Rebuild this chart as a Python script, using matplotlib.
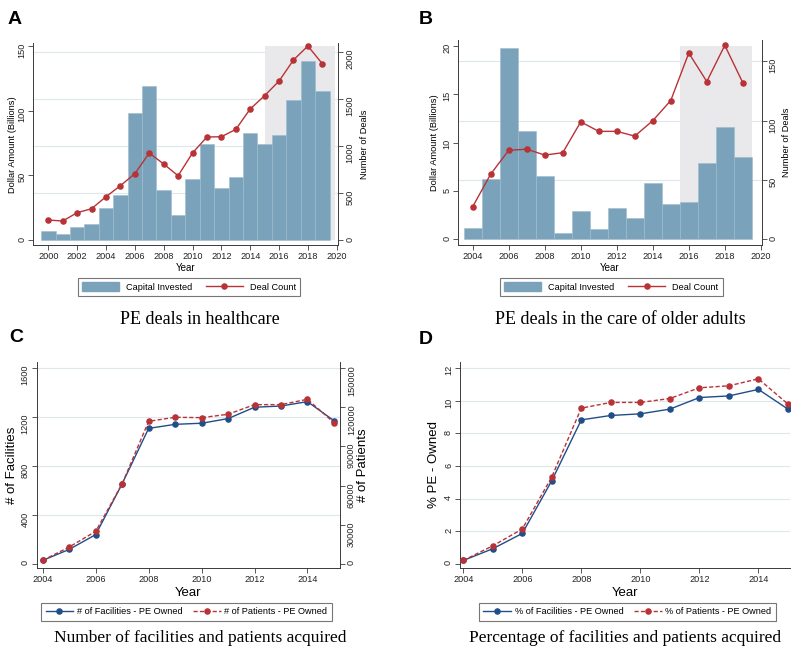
import matplotlib
matplotlib.use("Agg")
import matplotlib.pyplot as plt
from matplotlib.patches import Patch
from matplotlib.lines import Line2D

plt.rcParams['font.family'] = ['Liberation Sans', 'DejaVu Sans']

W, H = 797, 651

# panel A: all healthcare PE deals
years_a = list(range(2000, 2020))
capital_a = [7, 4.5, 10, 12, 24.5, 35, 98, 119, 38.5, 19.5, 47, 74, 40.5, 49,
             83, 74, 81, 108.5, 138, 115.5]
deals_a = [213, 202, 291, 333, 461, 578, 706, 926, 809, 684, 926, 1096, 1099,
           1177, 1394, 1536, 1691, 1915, 2064, 1876]

# panel B: care of older adults
years_b = list(range(2004, 2020))
capital_b = [1.2, 6.2, 19.8, 11.2, 6.5, 0.7, 2.95, 1.1, 3.25, 2.2, 5.85, 3.6,
             3.9, 7.85, 11.6, 8.5]
deals_b = [27.5, 55, 75, 76, 71, 73, 99, 91, 91, 87, 100, 117, 157, 133,
           163.5, 132]

# panels C and D: nursing homes
years_cd = list(range(2004, 2016))
facilities = [27, 117, 238, 655, 1108, 1141, 1150, 1188, 1281, 1291, 1327, 1171]
patients = [2560, 12800, 24800, 61400, 109300, 112400, 112100, 114700, 122100,
            122100, 126200, 108300]
pct_facilities = [0.2, 0.92, 1.86, 5.1, 8.83, 9.1, 9.2, 9.49, 10.2, 10.3,
                  10.7, 9.49]
pct_patients = [0.2, 1.1, 2.13, 5.33, 9.55, 9.9, 9.9, 10.14, 10.8, 10.92,
                11.35, 9.8]

BAR = '#7aa3bb'
BAR_EDGE = '#9dbccd'
RED = '#b83236'
NAVY = '#1f4e89'
SHADE = '#e9e9eb'
GRID = '#dde8ed'
SPINE = '#3a3a3a'
MS = 3.7

fig = plt.figure(figsize=(W / 100, H / 100), dpi=100)


def frame(left, right, top, bottom):
    return fig.add_axes([left / W, 1 - bottom / H, (right - left) / W,
                         (bottom - top) / H])


def style(ax, sides):
    for s in ['top', 'right', 'left', 'bottom']:
        ax.spines[s].set_visible(s in sides)
        ax.spines[s].set_color(SPINE)
        ax.spines[s].set_linewidth(0.7)
    ax.tick_params(length=3.5, width=0.6, color=SPINE, labelsize=6.6, pad=1.5,
                   labelcolor='#222222')
    ax.tick_params(axis='y', labelrotation=90)


def to_left(ax, ax2, v):
    lo1, hi1 = ax.get_ylim()
    lo2, hi2 = ax2.get_ylim()
    return lo1 + (v - lo2) * (hi1 - lo1) / (hi2 - lo2)


def legend(ax, handles, labels, cx, cy, **kw):
    leg = ax.legend(handles, labels, ncol=2, loc='center',
                    bbox_to_anchor=(cx / W, 1 - cy / H),
                    bbox_transform=fig.transFigure, fontsize=6.6,
                    frameon=True, fancybox=False, borderpad=0.45, **kw)
    leg.get_frame().set_edgecolor('#555555')
    leg.get_frame().set_linewidth(0.8)
    return leg


def deal_panel(box, years, capital, deals, xlim, ylim, ylim2, xticks, yticks,
               y2ticks, shade, label_xy, cap_xy, caption, leg_xy):
    ax = frame(*box)
    ax.set_xlim(*xlim)
    ax.set_ylim(*ylim)
    ax2 = ax.twinx()
    ax2.set_ylim(*ylim2)
    style(ax, ['left', 'bottom'])
    style(ax2, ['right'])
    for t in y2ticks[1:]:
        ax.axhline(to_left(ax, ax2, t), color=GRID, lw=0.8, zorder=0)
    ax.fill_between(shade[:2], 0, shade[2], color=SHADE, lw=0, zorder=1)
    ax.bar(years, capital, width=1.0, color=BAR, edgecolor=BAR_EDGE,
           linewidth=0.4, zorder=2)
    ax2.plot(years, deals, color=RED, lw=1, marker='o', ms=MS, zorder=3)
    ax.set_xticks(xticks)
    ax.set_yticks(yticks)
    ax2.set_yticks(y2ticks)
    ax.set_ylabel('Dollar Amount (Billions)', fontsize=6.7, va='center')
    ax.yaxis.set_label_coords(*label_xy[0])
    ax2.set_ylabel('Number of Deals', fontsize=6.7, va='center')
    ax2.yaxis.set_label_coords(*label_xy[1])
    ax.set_xlabel('Year', fontsize=7, va='center')
    ax.xaxis.set_label_coords(*label_xy[2])
    handles = [Patch(facecolor=BAR, edgecolor=BAR),
               Line2D([], [], color=RED, lw=1, marker='o', ms=MS)]
    legend(ax2, handles, ['Capital Invested', 'Deal Count'], *leg_xy,
           handlelength=4, handleheight=1.0, handletextpad=0.8,
           columnspacing=1.5)
    fig.text(cap_xy[0] / W, 1 - cap_xy[1] / H, caption,
             family='Liberation Serif', fontsize=13, ha='center', va='center')


def trend_panel(box, fac, pat, xlim, ylim, yticks, labels, ylabel, label_xy,
                cap_xy, caption, leg_xy, ylim2=None, y2ticks=None,
                y2label=None):
    ax = frame(*box)
    ax.set_xlim(*xlim)
    ax.set_ylim(*ylim)
    style(ax, ['left', 'bottom'])
    for t in yticks[1:]:
        ax.axhline(t, color=GRID, lw=0.8, zorder=0)
    ax.plot(years_cd, fac, color=NAVY, lw=1, marker='o', ms=MS, zorder=3)
    top = ax
    if ylim2 is not None:
        top = ax.twinx()
        top.set_ylim(*ylim2)
        style(top, ['right'])
        top.set_yticks(y2ticks)
        top.set_ylabel(y2label, fontsize=9.5, va='center')
        top.yaxis.set_label_coords(*label_xy[1])
    top.plot(years_cd, pat, color=RED, lw=1, ls=(0, (3, 1.6)), marker='o',
             ms=MS, zorder=4)
    ax.set_xticks(range(2004, 2015, 2))
    ax.set_yticks(yticks)
    ax.set_ylabel(ylabel, fontsize=9.5, va='center')
    ax.yaxis.set_label_coords(*label_xy[0])
    ax.set_xlabel('Year', fontsize=9.5, va='center')
    ax.xaxis.set_label_coords(*label_xy[2])
    handles = [Line2D([], [], color=NAVY, lw=1, marker='o', ms=MS),
               Line2D([], [], color=RED, lw=1, ls=(0, (3, 1.6)), marker='o',
                      ms=MS)]
    legend(top, handles, labels, *leg_xy, handlelength=3.0,
           handletextpad=0.4, columnspacing=1.2)
    fig.text(cap_xy[0] / W, 1 - cap_xy[1] / H, caption,
             family='Liberation Serif', fontsize=12.5, ha='center',
             va='center')


deal_panel((33.3, 338.3, 43.3, 245.2), years_a, capital_a, deals_a,
           (1998.96, 2020.11), (-4, 152), (-55, 2093),
           range(2000, 2021, 2), [0, 50, 100, 150], [0, 500, 1000, 1500, 2000],
           (2015, 2019.9, 150),
           ((-0.0698, 0.5), (1.0875, 0.5), (0.5, -0.113)),
           (200, 320), 'PE deals in healthcare', (189, 287))

deal_panel((458.3, 761.7, 40, 245), years_b, capital_b, deals_b,
           (2003.2, 2020.05), (-0.59, 20.6), (-4.8, 168),
           range(2004, 2021, 2), [0, 5, 10, 15, 20], [0, 50, 100, 150],
           (2015.5, 2019.5, 20),
           ((-0.080, 0.5), (1.0824, 0.5), (0.5, -0.111)),
           (620, 320), 'PE deals in the care of older adults', (611.5, 287))

trend_panel((36.7, 340, 361.7, 568.3), facilities, patients,
            (2003.77, 2015.23), (-38, 1654), [0, 400, 800, 1200, 1600],
            ['# of Facilities - PE Owned', '# of Patients - PE Owned'],
            '# of Facilities', ((-0.080, 0.5), (1.0758, 0.5), (0.5, -0.1196)),
            (200, 638), 'Number of facilities and patients acquired',
            (186.5, 612), ylim2=(-3560, 155060),
            y2ticks=[0, 30000, 60000, 90000, 120000, 150000],
            y2label='# of Patients')

trend_panel((460, 790, 361.7, 568.3), pct_facilities, pct_patients,
            (2003.89, 2015.07), (-0.28, 12.4), [0, 2, 4, 6, 8, 10, 12],
            ['% of Facilities - PE Owned', '% of Patients - PE Owned'],
            '% PE - Owned', ((-0.078, 0.5), None, (0.5, -0.118)),
            (625, 638), 'Percentage of facilities and patients acquired',
            (627.5, 612))

for letter, x, y in [('A', 8, 20), ('B', 419, 20), ('C', 9, 337), ('D', 419, 339)]:
    fig.text(x / W, 1 - y / H, letter, fontsize=14, weight='bold',
             ha='left', va='center')

fig.savefig('out.png', dpi=100)
